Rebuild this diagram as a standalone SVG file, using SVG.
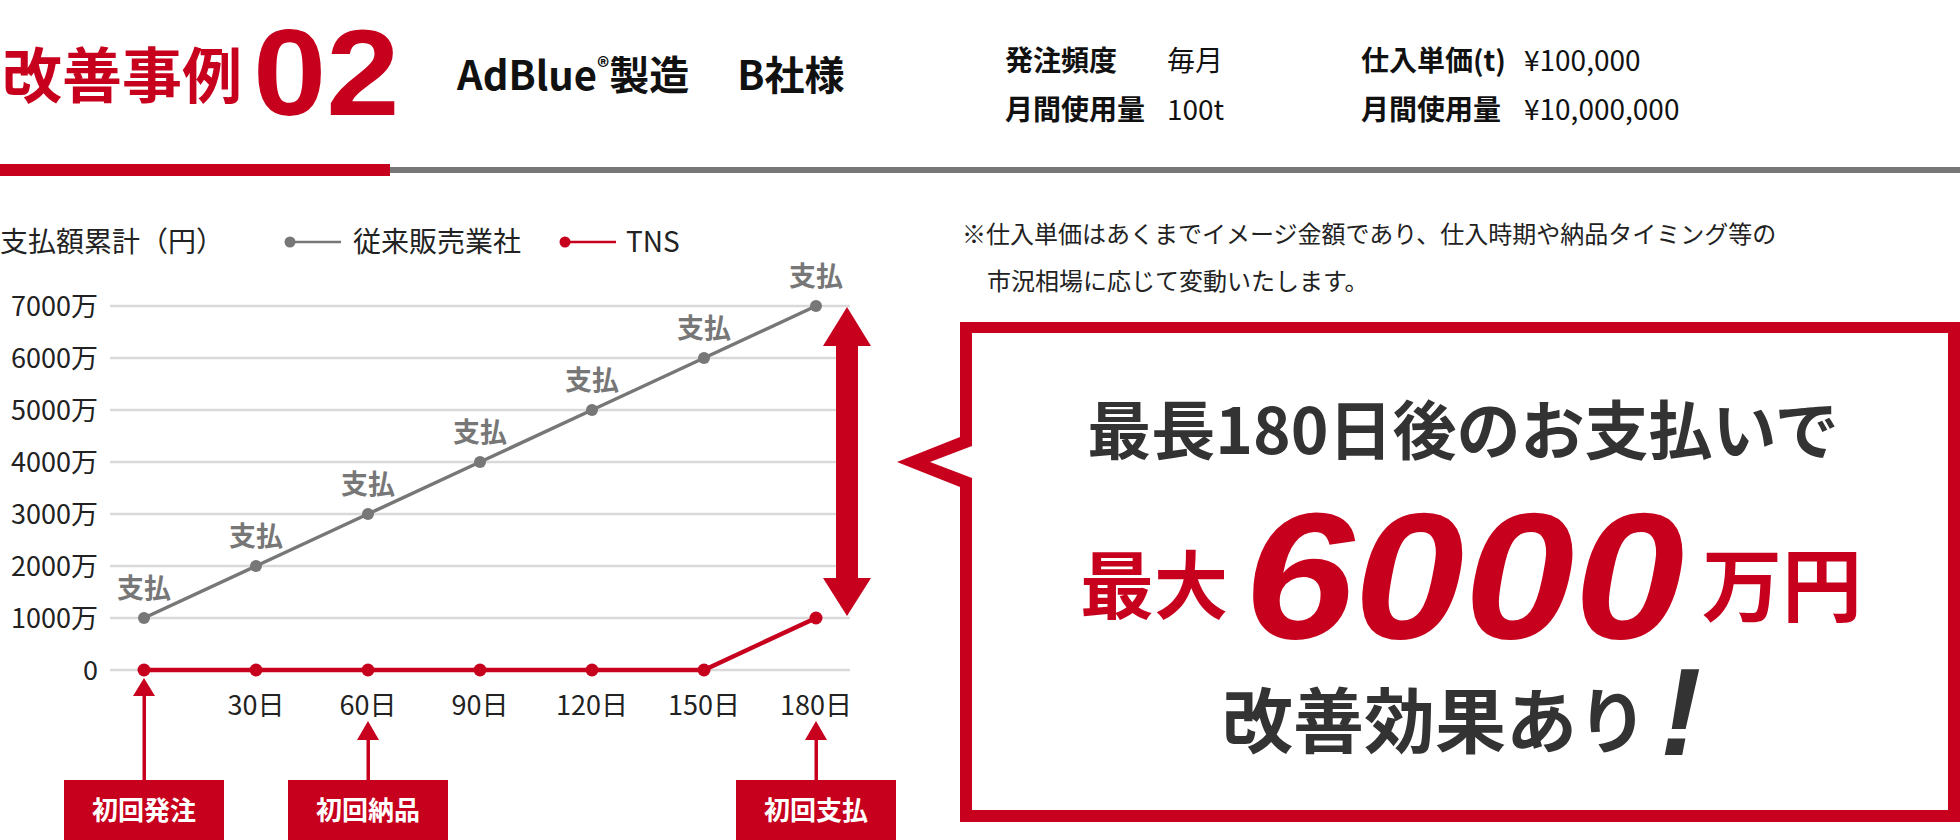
<svg xmlns="http://www.w3.org/2000/svg" width="1960" height="840" viewBox="0 0 1960 840">
<style>
text{font-family:"Noto Sans CJK JP","Noto Sans",sans-serif;}
.b{font-weight:700;}
.hd{font-size:28px;fill:#111;}
.note{font-size:24px;fill:#222;}
.ax{font-size:27px;fill:#222;}
.lg{font-size:28px;fill:#222;}
.pay{font-size:27px;font-weight:700;fill:#777;text-anchor:middle;}
.grid{stroke:#d9d9d9;stroke-width:2.5;}
.red{fill:#c7001e;}
.lbl{font-size:26px;font-weight:700;fill:#fff;text-anchor:middle;}
.lat{font-family:"Liberation Sans",Arial,sans-serif;}
</style>
<rect width="1960" height="840" fill="#fff"/>
<g id="header">
<text x="2" y="98" class="b red" font-size="60">改善事例</text>
<text transform="translate(253,115) scale(1.08,1)" x="0" y="0" class="lat red" font-size="122" font-weight="700">02</text>
<text x="457" y="90" class="b" font-size="40" fill="#111">AdBlue<tspan font-size="24" dy="-14">®</tspan><tspan dy="14">製造</tspan><tspan dx="8">　B社様</tspan></text>
<text x="1005" y="71" class="hd b">発注頻度</text>
<text x="1167" y="71" class="hd">毎月</text>
<text x="1361" y="71" class="hd b">仕入単価(t)</text>
<text x="1524" y="71" class="hd">¥100,000</text>
<text x="1005" y="120" class="hd b">月間使用量</text>
<text x="1167" y="120" class="hd">100t</text>
<text x="1361" y="120" class="hd b">月間使用量</text>
<text x="1524" y="120" class="hd">¥10,000,000</text>
<rect x="390" y="167" width="1570" height="6" fill="#777"/>
<rect x="0" y="164" width="390" height="12" class="red"/>
</g>
<g id="note">
<text x="962" y="243" class="note">※仕入単価はあくまでイメージ金額であり、仕入時期や納品タイミング等の</text>
<text x="987" y="290" class="note">市況相場に応じて変動いたします。</text>
</g>
<g id="legend">
<text x="0" y="252" class="lg">支払額累計（円）</text>
<line x1="290" y1="242" x2="341" y2="242" stroke="#777" stroke-width="2.5"/>
<circle cx="290" cy="242" r="5.5" fill="#777"/>
<text x="353" y="252" class="lg">従来販売業社</text>
<line x1="565" y1="242" x2="616" y2="242" stroke="#c7001e" stroke-width="2.5"/>
<circle cx="565" cy="242" r="5.5" fill="#c7001e"/>
<text x="626" y="252" class="lg">TNS</text>
</g>
<g id="axes">
<line x1="110" y1="306" x2="850" y2="306" class="grid"/>
<line x1="110" y1="358" x2="850" y2="358" class="grid"/>
<line x1="110" y1="410" x2="850" y2="410" class="grid"/>
<line x1="110" y1="462" x2="850" y2="462" class="grid"/>
<line x1="110" y1="514" x2="850" y2="514" class="grid"/>
<line x1="110" y1="566" x2="850" y2="566" class="grid"/>
<line x1="110" y1="618" x2="850" y2="618" class="grid"/>
<line x1="110" y1="670" x2="850" y2="670" class="grid"/>
<g class="ax" text-anchor="end">
<text x="98" y="316">7000万</text>
<text x="98" y="368">6000万</text>
<text x="98" y="420">5000万</text>
<text x="98" y="472">4000万</text>
<text x="98" y="524">3000万</text>
<text x="98" y="576">2000万</text>
<text x="98" y="628">1000万</text>
<text x="98" y="680">0</text>
</g>
<g class="ax" text-anchor="middle">
<text x="256" y="715">30日</text>
<text x="368" y="715">60日</text>
<text x="480" y="715">90日</text>
<text x="592" y="715">120日</text>
<text x="704" y="715">150日</text>
<text x="816" y="715">180日</text>
</g>
</g>
<g id="series-conventional">
<polyline points="144,618 256,566 368,514 480,462 592,410 704,358 816,306" fill="none" stroke="#777" stroke-width="3.5"/>
<g fill="#777">
<circle cx="144" cy="618" r="6"/><circle cx="256" cy="566" r="6"/><circle cx="368" cy="514" r="6"/><circle cx="480" cy="462" r="6"/><circle cx="592" cy="410" r="6"/><circle cx="704" cy="358" r="6"/><circle cx="816" cy="306" r="6"/>
</g>
<text x="144" y="598" class="pay">支払</text>
<text x="256" y="546" class="pay">支払</text>
<text x="368" y="494" class="pay">支払</text>
<text x="480" y="442" class="pay">支払</text>
<text x="592" y="390" class="pay">支払</text>
<text x="704" y="338" class="pay">支払</text>
<text x="816" y="286" class="pay">支払</text>
</g>
<g id="series-tns">
<polyline points="144,670 704,670 816,618" fill="none" stroke="#c7001e" stroke-width="4.5"/>
<g fill="#c7001e">
<circle cx="144" cy="670" r="6.5"/><circle cx="256" cy="670" r="6.5"/><circle cx="368" cy="670" r="6.5"/><circle cx="480" cy="670" r="6.5"/><circle cx="592" cy="670" r="6.5"/><circle cx="704" cy="670" r="6.5"/><circle cx="816" cy="618" r="6.5"/>
</g>
</g>
<g id="connectors" fill="#c7001e" stroke="none">
<rect x="142.5" y="694" width="3.5" height="86"/>
<polygon points="144,678 155,696 133,696"/>
<rect x="366.5" y="739" width="3.5" height="41"/>
<polygon points="368,721 379,740 357,740"/>
<rect x="814.5" y="739" width="3.5" height="41"/>
<polygon points="816,721 827,740 805,740"/>
<polygon points="847,307 871,346 858,346 858,578 871,578 847,616 823,578 836,578 836,346 823,346"/>
</g>
<g id="event-order">
<rect x="64" y="780" width="160" height="60" class="red"/>
<text x="144" y="820" class="lbl">初回発注</text>
</g>
<g id="event-delivery">
<rect x="288" y="780" width="160" height="60" class="red"/>
<text x="368" y="820" class="lbl">初回納品</text>
</g>
<g id="event-payment">
<rect x="736" y="780" width="160" height="60" class="red"/>
<text x="816" y="820" class="lbl">初回支払</text>
</g>
<g id="callout">
<path fill-rule="evenodd" class="red" d="M960,322 H1960 V822 H960 V487 L897,462 L960,437 Z M972,333 V446 L930,462 L972,478 V810 H1948 V333 Z"/>
<text x="1463" y="454" class="b" font-size="64" fill="#333" text-anchor="middle">最長180日後のお支払いで</text>
<text x="1080" y="613" class="b red" font-size="74">最大</text>
<text transform="translate(1244,638) scale(1.1,1)" x="0" y="0" class="lat red" font-size="180" font-weight="700" font-style="italic">6000</text>
<text x="1702" y="615" class="b red" font-size="80">万円</text>
<text x="1222" y="747" class="b" font-size="71" fill="#333">改善効果あり</text>
<text x="1660" y="755" class="lat" font-size="124" font-weight="700" font-style="italic" fill="#333">!</text>
</g>
</svg>
